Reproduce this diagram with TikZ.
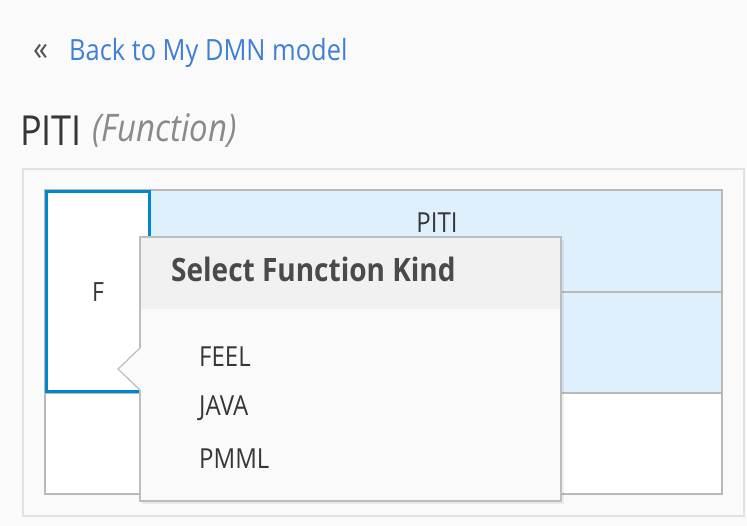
\documentclass[tikz,border=0pt]{standalone}
\usepackage{fontspec}
\setmainfont{Open Sans}
\usetikzlibrary{positioning}
\definecolor{pagebg}{HTML}{FAFAFA}
\definecolor{panelline}{HTML}{E2E2E2}
\definecolor{gridline}{HTML}{B9B9B9}
\definecolor{selblue}{HTML}{0088CE}
\definecolor{rowblue}{HTML}{DEF0FC}
\definecolor{popline}{HTML}{BDBDBD}
\definecolor{pophead}{HTML}{F1F1F1}
\definecolor{linkblue}{HTML}{3F7FD6}
\definecolor{darktext}{HTML}{363636}
\definecolor{greytext}{HTML}{8A8A8A}
\newcommand{\fsz}[1]{\fontsize{#1}{#1}\selectfont}

\begin{document}
\begin{tikzpicture}[x=1pt,y=-1pt,
    txt/.style={inner sep=0pt, text=darktext, transform shape, yscale=1.15},
    item/.style={txt, anchor=west, font=\fsz{24}}]
    \useasboundingbox[fill=pagebg] (0,0) rectangle (747,526);

    % Define the corners
    \coordinate (P1) at (23,169);
    \coordinate (P2) at (744,516);
    \coordinate (T1) at (45,190);
    \coordinate (T2) at (722,494);
    \def\colF{149}
    \def\rowA{292}
    \def\rowB{393}

    % Header texts
    \node[txt, text=darktext!85, font=\fsz{30}, anchor=west] (back) at (33,52) {«};
    \node[txt, text=linkblue, font=\fsz{25.4}, anchor=west] (link) at (69,53) {Back to My DMN model};
    \node[txt, font=\fsz{36}, anchor=west] (title) at (20,131) {PITI};
    \node[txt, text=greytext, font=\itshape\fsz{33}, anchor=west, right=10pt of title] (kind) {(Function)};

    % Draw the panel and the grid
    \draw[panelline, line width=1.2pt] (P1) rectangle (P2);
    \fill[white] (T1) rectangle (T2);
    \fill[rowblue] (\colF,190) rectangle (722,\rowB);
    \draw[gridline, line width=1.2pt] (T1) rectangle (T2);
    \draw[gridline, line width=1.2pt] (\colF,\rowA) -- (722,\rowA);
    \draw[gridline, line width=1.2pt] (45,\rowB) -- (722,\rowB);
    \draw[selblue, line width=3pt] (46.5,191.5) rectangle (\colF,\rowB-1.5);

    \node[txt, font=\fsz{23}] (fcell) at (98,292) {F};
    \node[txt, font=\fsz{24}] (piti) at (437,223) {PITI};

    % Draw the popup
    \fill[black, opacity=0.06] (142,240) rectangle (564,504);
    \fill[pagebg] (140,237) rectangle (561,501);
    \fill[pophead] (140,237) rectangle (561,309);
    \fill[pagebg] (141,348) -- (118,369) -- (141,390) -- cycle;
    \draw[popline, line width=1.2pt] (140,348) -- (140,237) -- (561,237) -- (561,501) -- (140,501) -- (140,390);
    \draw[popline, line width=1.2pt] (140,348) -- (118,369) -- (140,390);

    \node[txt, anchor=west, font=\bfseries\fsz{28}, text=darktext!90] (head) at (171,269) {Select Function Kind};
    \node[item] (feel) at (199,357) {FEEL};
    \node[item] (java) at (199,408) {JAVA};
    \node[item] (pmml) at (199,459) {PMML};
\end{tikzpicture}
\end{document}
